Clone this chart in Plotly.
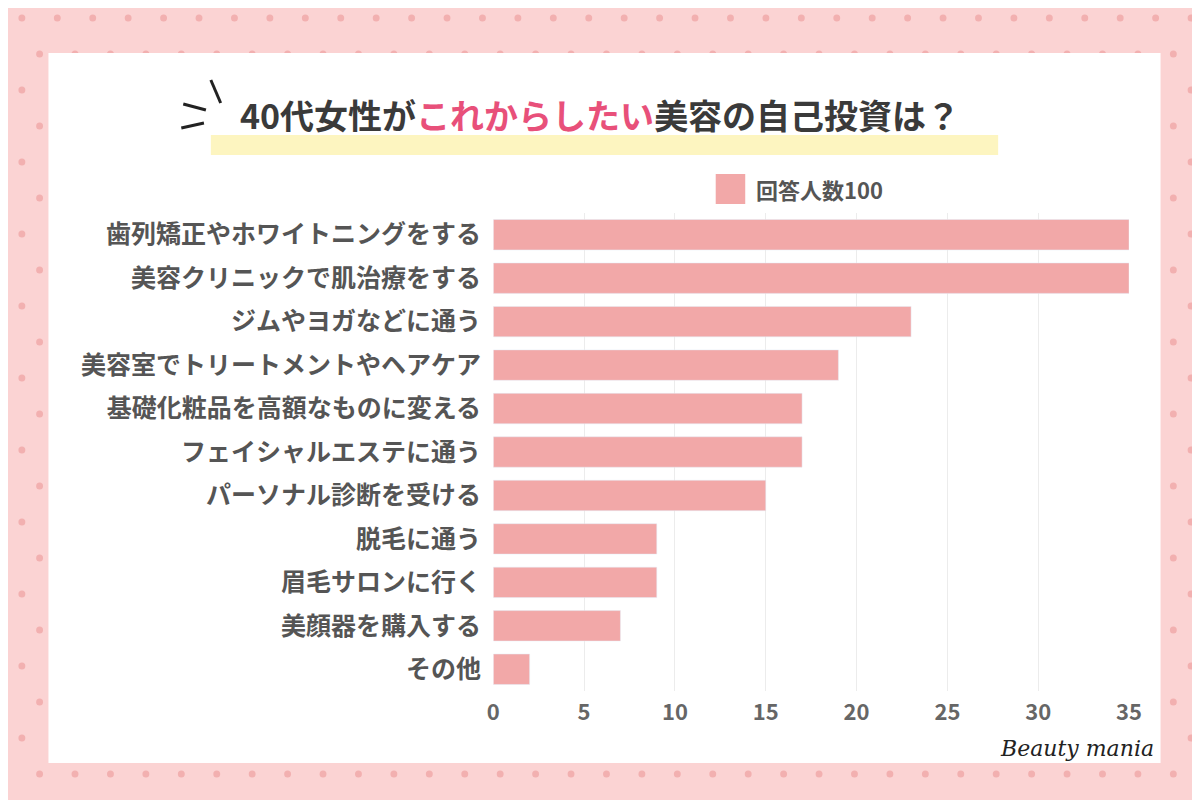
import plotly.graph_objects as go

categories = ["歯列矯正やホワイトニングをする", "美容クリニックで肌治療をする", "ジムやヨガなどに通う",
              "美容室でトリートメントやヘアケア", "基礎化粧品を高額なものに変える", "フェイシャルエステに通う",
              "パーソナル診断を受ける", "脱毛に通う", "眉毛サロンに行く", "美顔器を購入する", "その他"]
values = [35, 35, 23, 19, 17, 17, 15, 9, 9, 7, 2]
series_name = "回答人数100"

W, H = 1200, 800
px = lambda x: x / W
py = lambda y: 1 - y / H

fig = go.Figure()
fig.add_trace(go.Bar(x=values, y=categories, orientation="h", marker_color="#f2a8a8",
                     width=0.7, name=series_name, showlegend=False))

shapes = []
# dotted pink background
for r, yy in enumerate(range(10, 800, 36)):
    off = 18 if r % 2 else 0
    for xx in range(8 + off, 1200, 36):
        shapes.append(dict(type="circle", xref="paper", yref="paper", layer="below",
                           x0=px(xx - 3.5), x1=px(xx + 3.5), y0=py(yy + 3.5), y1=py(yy - 3.5),
                           fillcolor="#f2b0b0", line_width=0))
# white panel
shapes.append(dict(type="rect", xref="paper", yref="paper", layer="below",
                   x0=px(35), x1=px(1165), y0=py(755), y1=py(45), fillcolor="white", line_width=0))
# yellow highlight under title
shapes.append(dict(type="rect", xref="paper", yref="paper", layer="below",
                   x0=px(200), x1=px(1000), y0=py(147), y1=py(127), fillcolor="#fdf5c0", line_width=0))
# legend square
shapes.append(dict(type="rect", xref="paper", yref="paper",
                   x0=px(713), x1=px(743), y0=py(196), y1=py(166), fillcolor="#f2a8a8", line_width=0))
# title accent strokes
for x0, y0, x1, y1 in [(200, 72, 210, 95), (172, 96, 195, 102), (170, 120, 193, 115)]:
    shapes.append(dict(type="line", xref="paper", yref="paper", x0=px(x0), y0=py(y0), x1=px(x1), y1=py(y1),
                       line=dict(color="#222", width=3)))

annotations = [
    dict(text="<b>40代女性が<span style='color:#e8507a'>これからしたい</span>美容の自己投資は？</b>",
         x=px(228), y=py(106), xref="paper", yref="paper", xanchor="left", yanchor="middle",
         showarrow=False, font=dict(size=34, color="#3a3a3a", family="Noto Sans CJK JP")),
    dict(text="<b>" + series_name + "</b>", x=px(752), y=py(181), xref="paper", yref="paper",
         xanchor="left", yanchor="middle", showarrow=False,
         font=dict(size=22, color="#555", family="Noto Sans CJK JP")),
    dict(text="<i>Beauty mania</i>", x=px(1160), y=py(740), xref="paper", yref="paper",
         xanchor="right", yanchor="middle", showarrow=False,
         font=dict(size=22, color="#222", family="DejaVu Serif")),
]

fig.update_layout(
    width=W, height=H, margin=dict(l=0, r=0, t=0, b=0),
    paper_bgcolor="#fbd3d3", plot_bgcolor="rgba(0,0,0,0)",
    shapes=shapes, annotations=annotations, bargap=0.3,
    font=dict(family="Noto Sans CJK JP", color="#555"),
    xaxis=dict(domain=[px(487), px(1133)], range=[0, 35], dtick=5, showgrid=True,
               gridcolor="#ececec", zeroline=False, showline=False,
               tickfont=dict(size=22, color="#666"), ticklabelstandoff=6),
    yaxis=dict(domain=[py(683), py(205)], autorange="reversed", showgrid=False,
               tickfont=dict(size=25, color="#555")),
)
fig.update_yaxes(tickprefix="<b>", ticksuffix="</b>  ")
fig.update_xaxes(tickprefix="<b>", ticksuffix="</b>")
fig.write_html("out.html")
